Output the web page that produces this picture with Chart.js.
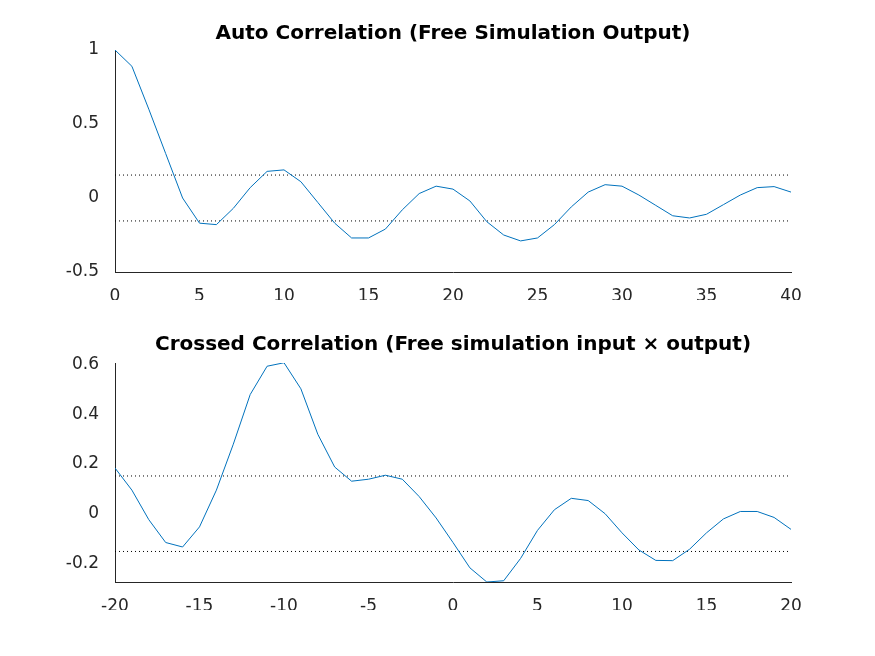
<!DOCTYPE html>
<html>
<head>
<meta charset="utf-8">
<script src="https://cdn.jsdelivr.net/npm/chart.js@4"></script>
<style>
  body { margin: 0; background: #fff; width: 875px; height: 656px; position: relative; overflow: hidden; }
  .box { position: absolute; left: 0; width: 875px; }
  .title { position: absolute; left: 80px; width: 746px; text-align: center; font: bold 20px "DejaVu Sans"; color: #000; }
</style>
</head>
<body>
<div class="box" style="top:0;height:300px"><canvas id="auto" width="875" height="300"></canvas></div>
<div class="box" style="top:300px;height:356px"><canvas id="cross" width="875" height="356"></canvas></div>
<div class="title" style="top:20px">Auto Correlation (Free Simulation Output)</div>
<div class="title" style="top:331px">Crossed Correlation (Free simulation input × output)</div>
<script>
const autoLags = Array.from({ length: 41 }, (_, i) => i);
const autoValues = [1.0, 0.89, 0.6, 0.3, 0.0, -0.17, -0.18, -0.07, 0.07, 0.18, 0.19, 0.11, -0.03, -0.17,
  -0.27, -0.27, -0.21, -0.08, 0.03, 0.08, 0.06, -0.02, -0.16, -0.25, -0.29, -0.27, -0.18, -0.06, 0.04,
  0.09, 0.08, 0.02, -0.05, -0.12, -0.135, -0.11, -0.045, 0.02, 0.07, 0.077, 0.04];
const autoBound = 0.155;
const autoYTicks = [-0.5, 0, 0.5, 1];

const crossLags = Array.from({ length: 41 }, (_, i) => i - 20);
const crossValues = [0.184, 0.095, -0.024, -0.116, -0.134, -0.053, 0.095, 0.28, 0.48, 0.594, 0.608,
  0.503, 0.32, 0.188, 0.131, 0.139, 0.155, 0.139, 0.069, -0.017, -0.116, -0.218, -0.275, -0.27, -0.18,
  -0.067, 0.016, 0.062, 0.053, 0.0, -0.077, -0.146, -0.188, -0.189, -0.143, -0.077, -0.021, 0.009,
  0.009, -0.015, -0.063];
const crossBound = 0.152;
const crossYTicks = [-0.2, 0, 0.2, 0.4, 0.6];

const tickFont = { family: 'DejaVu Sans', size: 17 };
const blue = '#0072bd';

function makeChart(id, lags, values, bound, xr, yr, yTicks, pad) {
  const pts = lags.map((x, i) => ({ x, y: values[i] }));
  const dotted = y => ({
    data: [{ x: xr[0], y }, { x: xr[1], y }],
    borderColor: '#000', borderWidth: 1, borderDash: [1, 3], pointRadius: 0
  });
  return new Chart(document.getElementById(id), {
    type: 'line',
    data: {
      datasets: [
        { data: pts, borderColor: blue, borderWidth: 1, pointRadius: 0, tension: 0 },
        dotted(bound), dotted(-bound)
      ]
    },
    options: {
      responsive: false,
      animation: false,
      layout: { padding: pad },
      plugins: { legend: { display: false }, tooltip: { enabled: false } },
      scales: {
        x: {
          type: 'linear', min: xr[0], max: xr[1],
          ticks: { stepSize: 5, color: '#262626', font: tickFont, maxRotation: 0, padding: 6 },
          grid: { display: false },
          border: { color: '#262626' },
          afterFit: a => { a.height = 28; }
        },
        y: {
          min: yr[0], max: yr[1],
          afterBuildTicks: a => { a.ticks = yTicks.map(v => ({ value: v })); },
          ticks: { color: '#262626', font: tickFont, padding: 8, callback: v => String(+v.toFixed(2)) },
          grid: { display: false },
          border: { color: '#262626' },
          afterFit: a => { a.width = 115; }
        }
      }
    }
  });
}

makeChart('auto', autoLags, autoValues, autoBound, [0, 40], [-0.5, 1], autoYTicks,
  { top: 50, right: 84, bottom: 0, left: 0 });
makeChart('cross', crossLags, crossValues, crossBound, [-20, 20], [-0.275, 0.607], crossYTicks,
  { top: 63, right: 84, bottom: 46, left: 0 });
</script>
</body>
</html>
